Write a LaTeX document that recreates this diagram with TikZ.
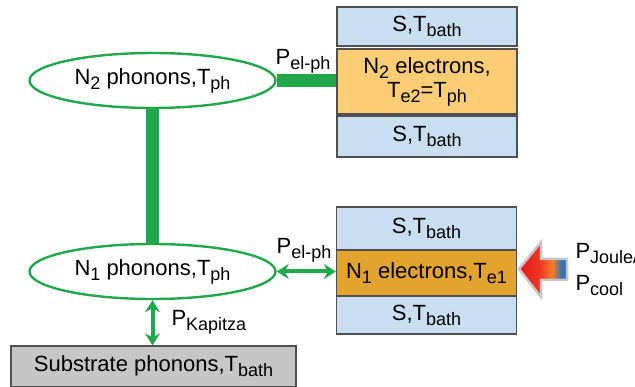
\documentclass[tikz,border=0pt]{standalone}
\usepackage{fontspec}
\setmainfont{Liberation Sans}
\usetikzlibrary{shapes.geometric,arrows.meta}
\definecolor{phgreen}{RGB}{34,168,76}
\definecolor{sblue}{RGB}{201,222,241}
\definecolor{eltwo}{RGB}{253,205,117}
\definecolor{elone}{RGB}{226,164,46}
\definecolor{subgray}{RGB}{198,198,198}
\definecolor{edge}{RGB}{80,80,80}
\pgfdeclarehorizontalshading{heatflow}{100bp}{rgb(0bp)=(0.9,0.08,0.1); rgb(25bp)=(0.9,0.08,0.1); rgb(47bp)=(0.93,0.22,0.14); rgb(60bp)=(0.95,0.5,0.15); rgb(69bp)=(0.2,0.45,0.7); rgb(75bp)=(0.2,0.45,0.7); rgb(100bp)=(0.2,0.45,0.7)}
\newcommand{\lowtxt}[1]{\raisebox{-5pt}{\fontsize{18}{18}\selectfont #1}}

\begin{document}
\begin{tikzpicture}[x=1pt,y=-1pt,
  every node/.style={font=\fontsize{22}{24}\selectfont},
  phonon/.style={ellipse,draw=phgreen,line width=2.4pt,inner sep=0pt,minimum width=246,minimum height=55},
  sbox/.style={rectangle,draw=edge,line width=1.2pt,fill=sblue,inner sep=0pt,minimum width=180},
  elbox/.style={rectangle,draw=edge,line width=1.2pt,inner sep=0pt,minimum width=180,align=center},
  thickbar/.style={draw=phgreen,line width=13pt},
  flow/.style={draw=phgreen,line width=4pt,arrows={Stealth[length=12pt,width=15pt]-Stealth[length=12pt,width=15pt]}}]
\useasboundingbox (0,0) rectangle (635,387);
% phonon baths
\node[phonon] (n2ph) at (152.5,80.5) {N\lowtxt{2} phonons,T\lowtxt{ph}};
\node[phonon] (n1ph) at (152.5,271.5) {N\lowtxt{1} phonons,T\lowtxt{ph}};
\node[rectangle,draw=edge,line width=1.2pt,fill=subgray,minimum width=285,minimum height=41,inner sep=0pt] (subph) at (153.5,366.5) {\raisebox{-2pt}{Substrate phonons,T\lowtxt{bath}}};
% upper stack
\node[sbox,minimum height=39] (s2top) at (427,26.5) {S,T\lowtxt{bath}};
\node[elbox,fill=eltwo,minimum height=65] (n2el) at (427,81.5) {N\lowtxt{2} electrons,\\T\lowtxt{e2}=T\lowtxt{ph}};
\node[sbox,minimum height=41] (s2bot) at (427,136.5) {S,T\lowtxt{bath}};
% lower stack
\node[sbox,minimum height=43] (s1top) at (426.5,228.5) {S,T\lowtxt{bath}};
\node[elbox,fill=elone,minimum height=46] (n1el) at (426.5,273) {N\lowtxt{1} electrons,T\lowtxt{e1}};
\node[sbox,minimum height=38] (s1bot) at (426.5,315) {S,T\lowtxt{bath}};
% couplings
\draw[thickbar] (n2ph.east) -- (n2ph.east -| n2el.west);
\draw[thickbar] (n2ph.south) -- (n1ph.north);
\draw[flow] (n1ph.east) -- (n1ph.east -| n1el.west);
\draw[flow] (n1ph.south) -- (n1ph.south |- subph.north);
\node (lbltop) at (303,61) {P\lowtxt{el-ph}};
\node (lblbot) at (304,250) {P\lowtxt{el-ph}};
\node[anchor=west] (lblkap) at (168,322) {P\lowtxt{Kapitza}};
% heating / cooling input
\coordinate (tip) at (519,269);
\draw[draw=gray!45,line width=2.5pt,shading=heatflow] (tip) -- (541,242) -- (541,259) -- (567,259) -- (567,280) -- (541,280) -- (541,297) -- cycle;
\node[anchor=west,align=left,font=\fontsize{22}{32}\selectfont] (lblheat) at (572,270) {P\lowtxt{Joule/}\\P\lowtxt{cool}};
\end{tikzpicture}
\end{document}
